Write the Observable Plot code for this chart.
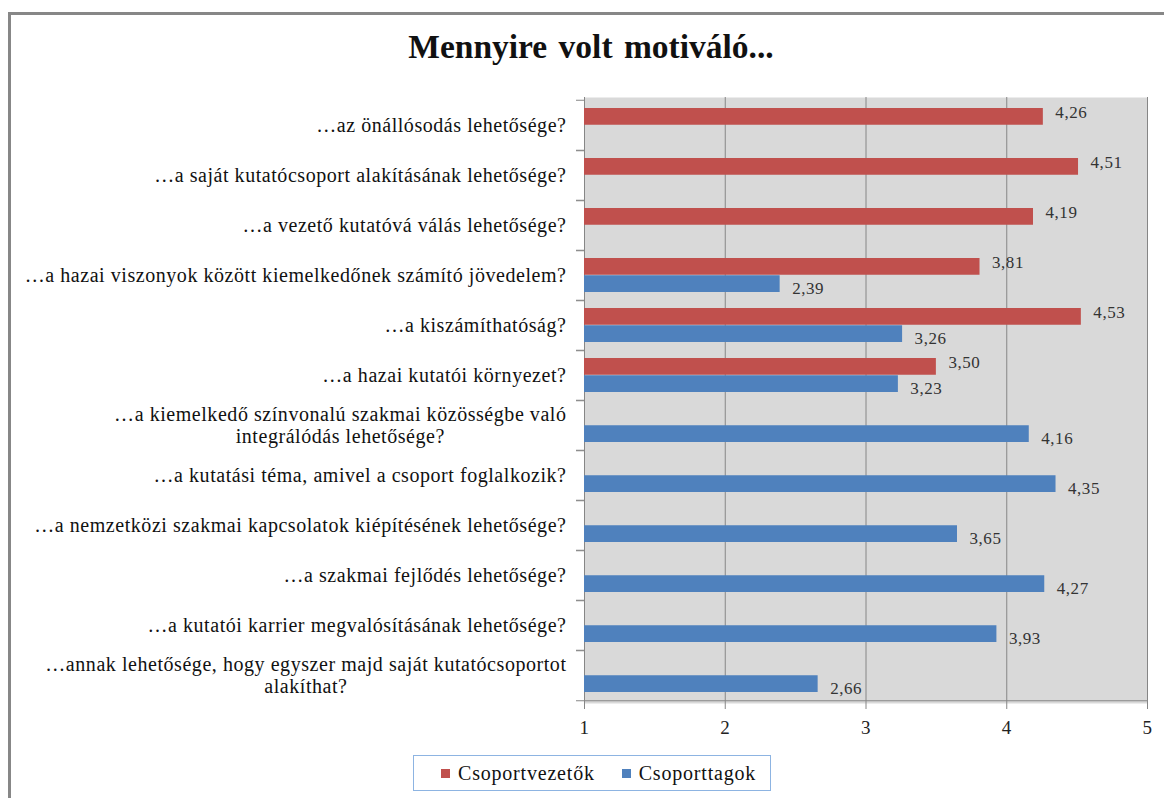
<!DOCTYPE html>
<html><head><meta charset="utf-8">
<script src="https://cdn.jsdelivr.net/npm/d3@7"></script>
<script src="https://cdn.jsdelivr.net/npm/@observablehq/plot@0.6"></script>
<style>
body{margin:0;background:#fff;}
#page{position:relative;width:1164px;height:798px;overflow:hidden;font-family:"Liberation Serif",serif;color:#111;}
#border{position:absolute;left:8px;top:12px;width:1200px;height:900px;border-top:3px solid #878787;border-left:3px solid #878787;}
#title{position:absolute;left:0;width:1182px;top:28px;text-align:center;font-weight:bold;font-size:33.5px;word-spacing:3px;}
#chart{position:absolute;left:0;top:0;}
#legend{position:absolute;left:413px;top:755px;width:358px;height:36px;border:1px solid #8DB4E2;display:flex;align-items:center;padding-left:27px;box-sizing:border-box;font-size:20px;letter-spacing:0.8px;}
.item{display:flex;align-items:center;margin-right:27px;}
.sw{width:9px;height:9px;margin-right:8px;}
</style></head>
<body>
<div id="page">
  <div id="border"></div>
  <div id="chart"></div>
  <div id="title">Mennyire volt motiváló...</div>
  <div id="legend"></div>
</div>
<script>
const categories = [
  "…az önállósodás lehetősége?",
  "…a saját kutatócsoport alakításának lehetősége?",
  "…a vezető kutatóvá válás lehetősége?",
  "…a hazai viszonyok között kiemelkedőnek számító jövedelem?",
  "…a kiszámíthatóság?",
  "…a hazai kutatói környezet?",
  "…a kiemelkedő színvonalú szakmai közösségbe való\nintegrálódás lehetősége?",
  "…a kutatási téma, amivel a csoport foglalkozik?",
  "…a nemzetközi szakmai kapcsolatok kiépítésének lehetősége?",
  "…a szakmai fejlődés lehetősége?",
  "…a kutatói karrier megvalósításának lehetősége?",
  "…annak lehetősége, hogy egyszer majd saját kutatócsoportot\nalakíthat?"
];
const seriesNames = ["Csoportvezetők", "Csoporttagok"];
const seriesColors = ["#C0504D", "#4F81BD"];
const vezetok = [4.26, 4.51, 4.19, 3.81, 4.53, 3.50, null, null, null, null, null, null];
const tagok   = [null, null, null, 2.39, 3.26, 3.23, 4.16, 4.35, 3.65, 4.27, 3.93, 2.66];
const xTicks = [1, 2, 3, 4, 5];

const axisMin = xTicks[0];
const fmt = v => d3.format(".2f")(v).replace(".", ",");
const redRows = categories.map((c, i) => ({category: c, value: vezetok[i]})).filter(d => d.value != null);
const blueRows = categories.map((c, i) => ({category: c, value: tagok[i]})).filter(d => d.value != null);

const labelFont = 20;
const spacing = 0.55;
const ctx = document.createElement("canvas").getContext("2d");
ctx.font = `${labelFont}px "Liberation Serif"`;
const measure = s => ctx.measureText(s).width + spacing * s.length;
const single = categories.filter(c => !c.includes("\n"));
const multi = categories.filter(c => c.includes("\n"));
const lineH = 22;
const gridColor = "#868686";

const multiMarks = multi.flatMap(c => {
  const lines = c.split("\n");
  const w = Math.max(...lines.map(measure));
  return lines.map((l, k) => Plot.text([c], {
    y: d => d, frameAnchor: "left", text: () => l, textAnchor: "middle",
    dx: -18 - w / 2, dy: (k - (lines.length - 1) / 2) * lineH, fontSize: labelFont, fill: "#111"
  }));
});

const H = 745, plotTop = 97, plotBottom = 703;
const band = (plotBottom - plotTop) / categories.length;

const chart = Plot.plot({
  width: 1164, height: H,
  marginLeft: 584, marginRight: 17, marginTop: plotTop, marginBottom: H - plotBottom,
  style: {background: "transparent", fontFamily: "'Liberation Serif', serif", fontSize: "17px", overflow: "visible", letterSpacing: spacing + "px"},
  x: {domain: [xTicks[0], xTicks[xTicks.length - 1]], axis: null},
  y: {domain: categories, padding: 0, axis: null},
  marks: [
    Plot.frame({fill: "#D9D9D9"}),
    Plot.ruleX(xTicks, {stroke: gridColor, strokeWidth: 1}),
    Plot.ruleY(categories.slice(-1), {y: d => d, dy: band / 2, stroke: gridColor}),
    Plot.axisY({anchor: "left", tickSize: 8, tickFormat: () => "", label: null, dy: band / 2, stroke: gridColor}),
    Plot.axisY({anchor: "left", tickSize: 8, tickFormat: () => "", label: null, dy: -band / 2, stroke: gridColor}),
    Plot.axisX(xTicks, {tickSize: 6, tickPadding: 11, tickFormat: d => String(d), label: null, stroke: gridColor, fontSize: 19, fill: "#222"}),
    Plot.barX(redRows, {x1: () => axisMin, x2: "value", y: "category", fill: seriesColors[0], insetTop: 8, insetBottom: band / 2}),
    Plot.barX(blueRows, {x1: () => axisMin, x2: "value", y: "category", fill: seriesColors[1], insetTop: band / 2, insetBottom: 8}),
    Plot.text(redRows, {x: "value", y: "category", text: d => fmt(d.value), dx: 12, dy: -(band / 2 - 8) / 2 - 4, textAnchor: "start", fontSize: 17, fill: "#333"}),
    Plot.text(blueRows, {x: "value", y: "category", text: d => fmt(d.value), dx: 12, dy: (band / 2 - 8) / 2 + 4, textAnchor: "start", fontSize: 17, fill: "#333"}),
    Plot.text(single, {y: d => d, frameAnchor: "left", text: d => d, textAnchor: "end", dx: -18, fontSize: labelFont, fill: "#111"}),
    ...multiMarks
  ]
});
document.getElementById("chart").appendChild(chart);

const legend = document.getElementById("legend");
seriesNames.forEach((name, i) => {
  const it = document.createElement("div");
  it.className = "item";
  const sw = document.createElement("span");
  sw.className = "sw";
  sw.style.background = seriesColors[i];
  const tx = document.createElement("span");
  tx.textContent = name;
  it.appendChild(sw); it.appendChild(tx);
  legend.appendChild(it);
});
</script>
</body></html>
